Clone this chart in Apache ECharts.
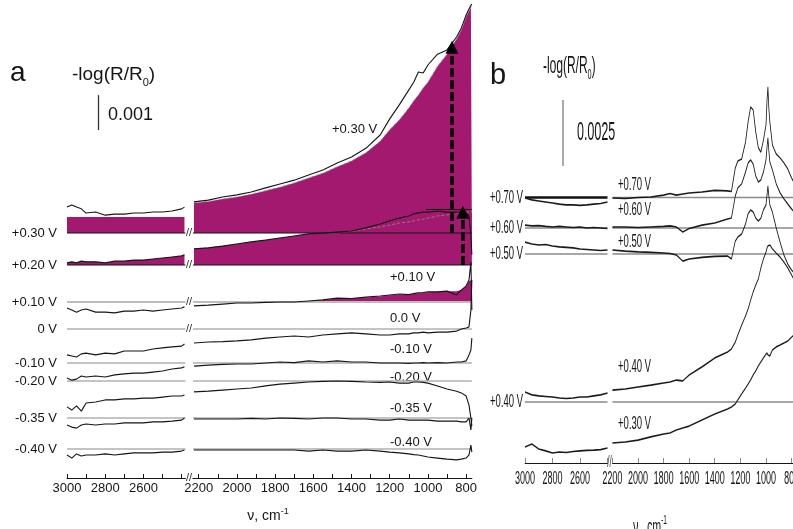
<!DOCTYPE html>
<html><head><meta charset="utf-8">
<script src="https://cdn.jsdelivr.net/npm/echarts@6.0.0/dist/echarts.min.js"></script>
<style>
html,body{margin:0;padding:0;width:793px;height:529px;overflow:hidden;background:#fff;}
#a{position:absolute;left:0;top:0;width:480px;height:529px;}
#b{position:absolute;left:480px;top:0;width:626px;height:529px;transform:scaleX(0.5);transform-origin:0 0;}
</style></head><body>
<div id="a"></div><div id="b"></div>
<script>
// ================= PANEL a DATA (absorbance in units of 0.001, relative to each baseline) =================
const A_LEFT_WN = [3000, 2975, 2950, 2925, 2900, 2850, 2800, 2750, 2700, 2650, 2600, 2550, 2500, 2450, 2400, 2385];
const A_RIGHT_WN = [2225, 2150, 2075, 2000, 1925, 1850, 1775, 1700, 1625, 1550, 1475, 1400, 1325, 1250, 1200, 1150, 1100, 1075, 1050, 1025, 1000, 950, 900, 850, 825, 800, 785, 775, 770];
const A_LEFT_RANGE = [2380, 3000];
const A_RIGHT_RANGE = [770, 2230];
const A_LEFT_LABEL_TICKS = [3000, 2800, 2600];
const A_RIGHT_LABEL_TICKS = [2200, 2000, 1800, 1600, 1400, 1200, 1000, 800];
const A_LEFT_TICKS = [3000, 2900, 2800, 2700, 2600, 2500, 2400];
const A_RIGHT_TICKS = [2200, 2100, 2000, 1900, 1800, 1700, 1600, 1500, 1400, 1300, 1200, 1100, 1000, 900, 800];
const A_LABELS_LEFT = ['+0.30 V', '+0.20 V', '+0.10 V', '0 V', '-0.10 V', '-0.20 V', '-0.35 V', '-0.40 V'];
const A_LABELS_RIGHT = ['+0.30 V', '+0.20 V', '+0.10 V', '0.0 V', '-0.10 V', '-0.20 V', '-0.35 V', '-0.40 V'];
const A_OFFSETS = [7.0, 6.086, 5.029, 4.257, 3.286, 2.771, 1.714, 0.829];

const a_p30_L = [0.74, 0.80, 0.74, 0.69, 0.57, 0.60, 0.51, 0.54, 0.54, 0.57, 0.57, 0.60, 0.60, 0.63, 0.69, 0.74];
const a_p30_R = [0.89, 0.94, 1.03, 1.09, 1.17, 1.29, 1.40, 1.51, 1.66, 1.80, 2.00, 2.17, 2.42, 2.80, 3.26, 3.66, 4.09, 4.30, 4.60, 4.57, 4.80, 5.11, 5.23, 5.60, 5.86, 6.23, 6.40, 6.51, 6.54];
const a_p30fit_L = [0.46, 0.46, 0.46, 0.46, 0.46, 0.46, 0.46, 0.46, 0.46, 0.46, 0.46, 0.46, 0.46, 0.46, 0.46, 0.46];
const a_p30fit_R = [0.86, 0.90, 0.97, 1.03, 1.11, 1.21, 1.31, 1.43, 1.57, 1.71, 1.89, 2.06, 2.29, 2.62, 2.95, 3.23, 3.57, 3.77, 3.94, 4.14, 4.31, 4.76, 5.11, 5.54, 5.80, 6.17, 6.34, 6.46, 6.49];
const a_p20_L = [0.06, 0.09, 0.06, 0.11, 0.09, 0.09, 0.06, 0.11, 0.11, 0.14, 0.14, 0.17, 0.20, 0.23, 0.26, 0.29];
const a_p20_R = [0.46, 0.49, 0.54, 0.60, 0.66, 0.71, 0.77, 0.83, 0.89, 0.91, 0.94, 0.97, 1.06, 1.17, 1.26, 1.34, 1.40, 1.46, 1.49, 1.51, 1.51, 1.54, 1.51, 1.51, 1.51, 1.49, 1.40, 0.86, 0.29];
const a_p20fit_R = [0.46, 0.49, 0.54, 0.60, 0.66, 0.71, 0.77, 0.83, 0.89, 0.91, 0.91, 0.96, 1.03, 1.09, 1.14, 1.20, 1.23, 1.26, 1.29, 1.31, 1.34, 1.40, 1.43, 1.49, 1.51, 1.51, 1.51, 1.51, 1.51];
const a_p10_L = [-0.17, -0.23, -0.29, -0.23, -0.20, -0.29, -0.29, -0.31, -0.26, -0.26, -0.23, -0.26, -0.23, -0.20, -0.17, -0.14];
const a_p10_R = [-0.11, -0.09, -0.06, -0.03, -0.03, -0.01, 0.00, 0.00, 0.03, 0.06, 0.11, 0.10, 0.14, 0.17, 0.20, 0.23, 0.21, 0.24, 0.26, 0.27, 0.29, 0.29, 0.31, 0.20, 0.34, 0.46, 0.63, 1.14, -0.23];
const a_p10fill_R = [0, 0, 0, 0, 0, 0, 0, 0, 0.03, 0.06, 0.10, 0.11, 0.13, 0.16, 0.19, 0.21, 0.22, 0.23, 0.25, 0.26, 0.28, 0.29, 0.31, 0.31, 0.35, 0.45, 0.60, 0.63, 0.63];
const a_0_L = [-0.74, -0.77, -0.80, -0.71, -0.69, -0.74, -0.69, -0.71, -0.63, -0.63, -0.63, -0.57, -0.54, -0.51, -0.49, -0.43];
const a_0_R = [-0.40, -0.37, -0.36, -0.34, -0.31, -0.26, -0.23, -0.20, -0.23, -0.17, -0.14, -0.11, -0.14, -0.17, -0.17, -0.14, -0.14, -0.11, -0.11, -0.09, -0.11, -0.09, -0.09, -0.06, 0.00, 0.03, 0.06, 0.54, 1.40];
const a_m10_L = [-0.43, -0.49, -0.46, -0.37, -0.40, -0.37, -0.40, -0.34, -0.31, -0.29, -0.29, -0.26, -0.23, -0.17, -0.14, -0.11];
const a_m10_R = [-0.09, -0.06, -0.04, -0.03, -0.03, 0.00, 0.03, 0.01, 0.06, 0.03, 0.06, 0.03, 0.03, 0.00, 0.00, 0.00, -0.01, 0.00, 0.00, 0.01, 0.00, 0.01, 0.00, 0.03, 0.03, 0.06, 0.23, 0.37, 0.71];
const a_m20_L = [-0.74, -0.83, -0.71, -0.86, -0.63, -0.60, -0.54, -0.54, -0.51, -0.51, -0.49, -0.49, -0.46, -0.43, -0.43, -0.40];
const a_m20_R = [-0.31, -0.29, -0.26, -0.23, -0.20, -0.14, -0.09, -0.06, -0.03, -0.01, 0.00, -0.01, -0.03, -0.04, -0.03, -0.06, -0.06, -0.03, -0.03, -0.04, -0.06, -0.14, -0.23, -0.29, -0.34, -0.43, -0.69, -1.06, -1.29];
const a_m35_L = [-0.20, -0.26, -0.29, -0.20, -0.17, -0.20, -0.17, -0.17, -0.14, -0.14, -0.14, -0.11, -0.11, -0.09, -0.06, 0.00];
const a_m35_R = [-0.03, -0.03, -0.03, -0.03, -0.01, -0.03, 0.00, -0.01, -0.03, 0.00, 0.00, -0.03, -0.03, -0.06, -0.06, -0.03, -0.06, -0.06, -0.06, -0.06, -0.06, -0.09, -0.09, -0.09, -0.11, -0.11, 0.00, -0.34, 0.00];
const a_m40_L = [-0.17, -0.26, -0.14, -0.20, -0.17, -0.17, -0.14, -0.17, -0.14, -0.11, -0.11, -0.11, -0.09, -0.09, -0.06, -0.03];
const a_m40_R = [-0.03, -0.03, -0.03, -0.03, -0.03, -0.03, -0.03, -0.03, -0.06, -0.03, -0.06, -0.06, -0.03, -0.06, -0.09, -0.11, -0.14, -0.16, -0.17, -0.20, -0.23, -0.26, -0.29, -0.31, -0.29, -0.26, -0.17, 0.11, -0.09];

const A_ARROW_WN = [874, 817];
const A_ARROW_RISE = [5.31, 1.51];
const A_HLINE = {from: 1010, to: 770, level: 1.6};
const A_SCALE = {wn: 2838, from: 9.94, length: 1.0};   // 0.001

// ================= PANEL b DATA =================
const B_LEFT_WN = [3000, 2950, 2900, 2850, 2800, 2750, 2700, 2650, 2600, 2550, 2500, 2450, 2400];
const B_RIGHT_WN = [2200, 2100, 2000, 1900, 1800, 1750, 1700, 1650, 1600, 1500, 1400, 1300, 1270, 1240, 1220, 1190, 1160, 1140, 1120, 1100, 1080, 1060, 1040, 1020, 1000, 992, 985, 978, 970, 950, 920, 890, 860, 830, 800, 780];
const B_LEFT_RANGE = [2400, 3000];
const B_RIGHT_RANGE = [700, 2200];
const B_LEFT_LABEL_TICKS = [3000, 2800, 2600];
const B_RIGHT_LABEL_TICKS = [2200, 2000, 1800, 1600, 1400, 1200, 1000, 800];
const B_LEFT_TICKS = [3000, 2800, 2600, 2400];
const B_RIGHT_TICKS = [2200, 2000, 1800, 1600, 1400, 1200, 1000, 800];
const B_LABELS_LEFT = ['+0.70 V', '+0.60 V', '+0.50 V', '+0.40 V'];
const B_LABELS_RIGHT = ['+0.70 V', '+0.60 V', '+0.50 V', '+0.40 V', '+0.30 V'];
const B_OFFSETS = [10.057, 8.902, 7.917, 2.311, 0.568];

const b_p70_L = [-0.02, -0.09, -0.13, -0.17, -0.21, -0.25, -0.28, -0.28, -0.30, -0.28, -0.25, -0.23, -0.17];
const b_p70_R = [-0.02, -0.04, 0.00, 0.02, 0.09, 0.15, 0.09, 0.13, 0.17, 0.21, 0.27, 0.25, 0.23, 1.12, 1.38, 1.46, 2.10, 2.86, 3.43, 3.31, 2.48, 1.88, 1.72, 2.18, 2.75, 3.69, 4.19, 3.39, 2.86, 1.99, 1.65, 1.50, 1.31, 1.08, 0.74, 0.55];
const b_p60_L = [0.11, 0.08, 0.09, 0.06, 0.04, 0.06, 0.04, 0.02, 0.04, 0.00, 0.02, 0.00, -0.02];
const b_p60_R = [0.04, 0.04, 0.02, 0.04, 0.06, 0.08, 0.04, -0.15, -0.02, 0.11, 0.19, 0.34, 0.38, 1.21, 1.52, 1.67, 2.12, 2.46, 2.58, 2.42, 1.97, 1.74, 1.82, 2.12, 2.58, 3.07, 3.41, 2.95, 2.50, 2.20, 1.67, 1.33, 1.10, 0.91, 0.72, 0.61];
const b_p50_L = [0.45, 0.38, 0.34, 0.36, 0.30, 0.27, 0.25, 0.23, 0.19, 0.17, 0.15, 0.13, 0.15];
const b_p50_R = [0.15, 0.11, 0.08, 0.06, 0.04, 0.02, -0.04, -0.27, -0.19, -0.13, -0.09, -0.08, -0.19, 0.49, 0.64, 0.76, 1.14, 1.52, 1.67, 1.59, 1.36, 1.25, 1.36, 1.67, 1.86, 2.23, 2.58, 2.20, 1.86, 1.59, 0.98, 0.45, -0.04, -0.38, -0.61, -0.72];
const b_p40_L = [0.38, 0.27, 0.23, 0.21, 0.19, 0.15, 0.13, 0.15, 0.19, 0.19, 0.23, 0.27, 0.34];
const b_p40_R = [0.45, 0.49, 0.57, 0.64, 0.72, 0.76, 0.83, 0.80, 1.02, 1.33, 1.67, 1.89, 2.01, 2.27, 2.54, 2.92, 3.26, 3.52, 3.86, 4.17, 4.43, 4.66, 5.08, 5.42, 5.68, 5.83, 5.91, 5.95, 5.95, 5.80, 5.64, 5.49, 5.30, 5.08, 4.81, 4.62];
const b_p30_L = [0.04, 0.15, -0.04, -0.11, -0.19, -0.15, -0.17, -0.13, -0.11, -0.09, -0.08, -0.06, 0.00];
const b_p30_R = [0.19, 0.23, 0.30, 0.42, 0.53, 0.57, 0.68, 0.76, 0.83, 1.06, 1.29, 1.48, 1.55, 1.67, 1.82, 2.05, 2.27, 2.42, 2.58, 2.77, 2.92, 3.11, 3.26, 3.41, 3.56, 3.60, 3.52, 3.45, 3.49, 3.71, 3.83, 3.90, 3.98, 4.05, 4.20, 4.28];
const B_SCALE = {wn: 2724, from: 11.25, length: 2.5};  // 0.0025

// ================= helpers =================
const FONT = 'Liberation Sans, Arial, Helvetica, sans-serif';
const MAGENTA = '#A3196F';
const INK = '#151515';
function pts(wn, vals, off) { return wn.map((w, i) => [w, off + vals[i]]); }
function xAxis(grid, range, ticks, labels, fs, margin, tlen) {
  return {type: 'value', gridIndex: grid, min: range[0], max: range[1], inverse: true,
    axisLine: {show: true, onZero: false, lineStyle: {color: INK, width: 1}},
    axisTick: {show: true, inside: true, length: tlen, customValues: ticks, lineStyle: {color: INK, width: 1}},
    axisLabel: {show: true, customValues: labels, fontSize: fs, color: INK, margin: margin, fontFamily: FONT,
      formatter: v => String(Math.round(v))},
    splitLine: {show: false}};
}
function lineS(ax, data, color, width, z, extra) {
  return Object.assign({type: 'line', xAxisIndex: ax, yAxisIndex: ax, data: data, symbol: 'none', silent: true,
    z: z, lineStyle: {color: color, width: width}}, extra || {});
}
function labelFor(list, offs) {
  return function (v) { let k = 0; offs.forEach((o, i) => { if (Math.abs(o - v) < Math.abs(offs[k] - v)) k = i; }); return list[k]; };
}
function gridBox(left, width, height) {
  return {left: left, top: 0, width: width, height: height, containLabel: false, outerBoundsMode: 'none'};
}

// ================= CHART A =================
const A_PX = 0.191, A_H = 478, A_UNIT = 35;
const A_YMAX = A_H / A_UNIT;
const aTraces = [[a_p30_L, a_p30_R], [a_p20_L, a_p20_R], [a_p10_L, a_p10_R], [a_0_L, a_0_R],
  [a_m10_L, a_m10_R], [a_m20_L, a_m20_R], [a_m35_L, a_m35_R], [a_m40_L, a_m40_R]];
const aBaseStyle = [[INK, 1.1], [INK, 1.1], ['#bdbdbd', 2], ['#b0b0b0', 1.3], ['#b0b0b0', 1.3], ['#b0b0b0', 1.3], ['#b0b0b0', 1.3], ['#b0b0b0', 1.3]];
const aSeries = [];
function fillS(ax, wn, vals, off, dashed) {
  return lineS(ax, pts(wn, vals, off), 'rgba(0,0,0,0)', 0, 1,
    {areaStyle: {color: MAGENTA, opacity: 1, origin: off}, lineStyle: {color: dashed ? '#8a8a8a' : 'rgba(0,0,0,0)', width: dashed ? 0.9 : 0, type: [3, 2]}});
}
aSeries.push(fillS(0, A_LEFT_WN, a_p30fit_L, A_OFFSETS[0], false));
aSeries.push(fillS(1, A_RIGHT_WN, a_p30fit_R, A_OFFSETS[0], true));
aSeries.push(fillS(0, A_LEFT_WN, a_p20_L, A_OFFSETS[1], false));
aSeries.push(fillS(1, A_RIGHT_WN, a_p20fit_R, A_OFFSETS[1], true));
aSeries.push(fillS(1, A_RIGHT_WN, a_p10fill_R, A_OFFSETS[2], false));
A_OFFSETS.forEach((off, i) => {
  const st = aBaseStyle[i];
  const left = lineS(0, [[A_LEFT_RANGE[1], off], [A_LEFT_RANGE[0], off]], st[0], st[1], 2);
  const right = lineS(1, [[A_RIGHT_RANGE[1], off], [A_RIGHT_RANGE[0], off]], st[0], st[1], 2);
  if (i === 0) {
    left.markLine = {silent: true, symbol: 'none', label: {show: false}, animation: false,
      lineStyle: {color: '#333', width: 1.3, type: 'solid'},
      data: [[{coord: [A_SCALE.wn, A_SCALE.from]}, {coord: [A_SCALE.wn, A_SCALE.from + A_SCALE.length]}]]};
    right.markLine = {silent: true, symbol: ['none', 'triangle'], symbolSize: 13, label: {show: false}, animation: false,
      lineStyle: {color: '#000', width: 3.5, type: [9, 3]},
      data: A_ARROW_WN.map((w, k) => [{coord: [w, A_OFFSETS[k]]}, {coord: [w, A_OFFSETS[k] + A_ARROW_RISE[k]]}])};
  }
  if (i === 1) {
    right.markLine = {silent: true, symbol: 'none', label: {show: false}, animation: false,
      lineStyle: {color: INK, width: 1.1, type: 'solid'},
      data: [[{coord: [A_HLINE.from, off + A_HLINE.level]}, {coord: [A_HLINE.to, off + A_HLINE.level]}]]};
  }
  aSeries.push(left, right);
});
aTraces.forEach((tr, i) => {
  aSeries.push(lineS(0, pts(A_LEFT_WN, tr[0], A_OFFSETS[i]), INK, 1.1, 4));
  aSeries.push(lineS(1, pts(A_RIGHT_WN, tr[1], A_OFFSETS[i]), INK, 1.1, 4));
});

const aRightLabelPos = [[332, 129], [330, 217], [390, 277], [390, 318], [390, 349], [390, 377], [390, 408], [390, 442]];
const aGraphics = [
  {type: 'text', x: 10, y: 73, silent: true, style: {text: 'a', fontSize: 28, fontFamily: FONT, fill: INK, verticalAlign: 'middle'}},
  {type: 'text', x: 72, y: 75, silent: true, style: {text: '{n|-log(R/R}{s|0}{n|)}', verticalAlign: 'middle',
    rich: {n: {fontSize: 19, fontFamily: FONT, fill: INK, lineHeight: 26}, s: {fontSize: 11, fontFamily: FONT, fill: INK, lineHeight: 12, verticalAlign: 'bottom'}}}},
  {type: 'text', x: 108, y: 115, silent: true, style: {text: '0.001', fontSize: 18, fontFamily: FONT, fill: INK, verticalAlign: 'middle'}},
  {type: 'text', x: 268, y: 516, silent: true, style: {text: '{n|ν, cm}{p|-1}', align: 'center', verticalAlign: 'middle',
    rich: {n: {fontSize: 14, fontFamily: FONT, fill: INK, lineHeight: 18}, p: {fontSize: 9, fontFamily: FONT, fill: INK, lineHeight: 9, verticalAlign: 'top'}}}}
];
A_LABELS_RIGHT.forEach((t, i) => aGraphics.push({type: 'text', x: aRightLabelPos[i][0], y: aRightLabelPos[i][1], silent: true,
  style: {text: t, fontSize: 13, fontFamily: FONT, fill: INK, verticalAlign: 'middle'}}));
[478, 233, 265, 302, 329].forEach(y => aGraphics.push({type: 'text', x: 189, y: y, silent: true,
  style: {text: '//', fontSize: 11, fontFamily: FONT, fill: '#333', align: 'center', verticalAlign: 'middle'}}));

const chartA = echarts.init(document.getElementById('a'));
chartA.setOption({
  animation: false,
  grid: [gridBox(67, (A_LEFT_RANGE[1] - A_LEFT_RANGE[0]) * A_PX, A_H),
         gridBox(193, (A_RIGHT_RANGE[1] - A_RIGHT_RANGE[0]) * A_PX, A_H)],
  xAxis: [xAxis(0, A_LEFT_RANGE, A_LEFT_TICKS, A_LEFT_LABEL_TICKS, 13, 4, 4),
          xAxis(1, A_RIGHT_RANGE, A_RIGHT_TICKS, A_RIGHT_LABEL_TICKS, 13, 4, 4)],
  yAxis: [
    {type: 'value', gridIndex: 0, min: 0, max: A_YMAX, axisLine: {show: false}, axisTick: {show: false}, splitLine: {show: false},
     axisLabel: {show: true, customValues: A_OFFSETS, formatter: labelFor(A_LABELS_LEFT, A_OFFSETS), fontSize: 13, color: INK, margin: 10, fontFamily: FONT}},
    {type: 'value', gridIndex: 1, min: 0, max: A_YMAX, show: false}
  ],
  series: aSeries,
  graphic: {elements: aGraphics}
});

// ================= CHART B (drawn at 2x width, squeezed by CSS scaleX 0.5) =================
const B_PX_L = 0.275, B_PX_R = 0.256, B_H = 463, B_UNIT = 26.4;
const B_YMAX = B_H / B_UNIT;
const bTraces = [[b_p70_L, b_p70_R], [b_p60_L, b_p60_R], [b_p50_L, b_p50_R], [b_p40_L, b_p40_R], [b_p30_L, b_p30_R]];
const bSeries = [];
B_OFFSETS.slice(0, 4).forEach((off, i) => {
  const left = lineS(0, [[B_LEFT_RANGE[1], off], [B_LEFT_RANGE[0], off]], i === 0 ? '#111' : '#8a8a8a', i === 0 ? 2.6 : 1.6, 2);
  const right = lineS(1, [[B_RIGHT_RANGE[1], off], [B_RIGHT_RANGE[0], off]], '#8a8a8a', 1.6, 2);
  if (i === 0) {
    left.markLine = {silent: true, symbol: 'none', label: {show: false}, animation: false,
      lineStyle: {color: '#555', width: 2, type: 'solid'},
      data: [[{coord: [B_SCALE.wn, B_SCALE.from]}, {coord: [B_SCALE.wn, B_SCALE.from + B_SCALE.length]}]]};
  }
  bSeries.push(left, right);
});
bTraces.forEach((tr, i) => {
  bSeries.push(lineS(0, pts(B_LEFT_WN, tr[0], B_OFFSETS[i]), '#1a1a1a', 1.6, 4));
  bSeries.push(lineS(1, pts(B_RIGHT_WN, tr[1], B_OFFSETS[i]), '#1a1a1a', 1.6, 4));
});
const bRightLabelY = [185, 210, 242, 367, 424];
const bGraphics = [
  {type: 'text', x: 20, y: 76, scaleX: 2, silent: true, style: {text: 'b', fontSize: 29, fontFamily: FONT, fill: INK, verticalAlign: 'middle'}},
  {type: 'text', x: 126, y: 66, silent: true, style: {text: '{n|-log(R/R}{s|0}{n|)}', verticalAlign: 'middle',
    rich: {n: {fontSize: 24, fontFamily: FONT, fill: INK, lineHeight: 32}, s: {fontSize: 14, fontFamily: FONT, fill: INK, lineHeight: 14, verticalAlign: 'bottom'}}}},
  {type: 'text', x: 194, y: 133, silent: true, style: {text: '0.0025', fontSize: 25, fontFamily: FONT, fill: INK, verticalAlign: 'middle'}},
  {type: 'text', x: 340, y: 527, silent: true, style: {text: '{n|ν,  cm}{p|-1}', align: 'center', verticalAlign: 'middle',
    rich: {n: {fontSize: 21, fontFamily: FONT, fill: INK, lineHeight: 26}, p: {fontSize: 13, fontFamily: FONT, fill: INK, lineHeight: 13, verticalAlign: 'top'}}}},
  {type: 'text', x: 259, y: 463, silent: true, style: {text: '//', fontSize: 16, fontFamily: FONT, fill: '#333', align: 'center', verticalAlign: 'middle'}}
];
B_LABELS_RIGHT.forEach((t, i) => bGraphics.push({type: 'text', x: 276, y: bRightLabelY[i], silent: true,
  style: {text: t, fontSize: 19, fontFamily: FONT, fill: INK, verticalAlign: 'middle'}}));

const chartB = echarts.init(document.getElementById('b'));
chartB.setOption({
  animation: false,
  grid: [gridBox(90, (B_LEFT_RANGE[1] - B_LEFT_RANGE[0]) * B_PX_L, B_H),
         gridBox(264.8, (B_RIGHT_RANGE[1] - B_RIGHT_RANGE[0]) * B_PX_R, B_H)],
  xAxis: [xAxis(0, B_LEFT_RANGE, B_LEFT_TICKS, B_LEFT_LABEL_TICKS, 18, 7, 5),
          xAxis(1, B_RIGHT_RANGE, B_RIGHT_TICKS, B_RIGHT_LABEL_TICKS, 18, 7, 5)],
  yAxis: [
    {type: 'value', gridIndex: 0, min: 0, max: B_YMAX, axisLine: {show: false}, axisTick: {show: false}, splitLine: {show: false},
     axisLabel: {show: true, customValues: B_OFFSETS.slice(0, 4), formatter: labelFor(B_LABELS_LEFT, B_OFFSETS.slice(0, 4)), fontSize: 19, color: INK, margin: 4, fontFamily: FONT}},
    {type: 'value', gridIndex: 1, min: 0, max: B_YMAX, show: false}
  ],
  series: bSeries,
  graphic: {elements: bGraphics}
});
</script></body></html>
